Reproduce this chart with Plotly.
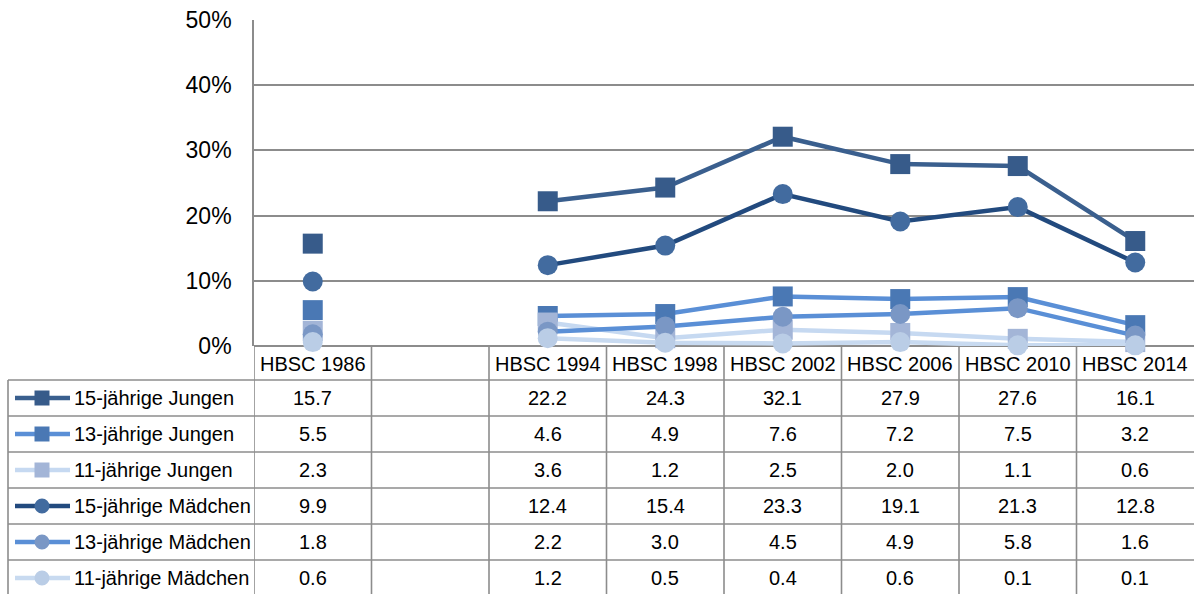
import plotly.graph_objects as go

W, H = 1194, 594

categories = ["HBSC 1986", "", "HBSC 1994", "HBSC 1998", "HBSC 2002", "HBSC 2006", "HBSC 2010", "HBSC 2014"]
series_names = ["15-jährige Jungen", "13-jährige Jungen", "11-jährige Jungen",
                "15-jährige Mädchen", "13-jährige Mädchen", "11-jährige Mädchen"]

jungen_15 = [15.7, None, 22.2, 24.3, 32.1, 27.9, 27.6, 16.1]
jungen_13 = [5.5, None, 4.6, 4.9, 7.6, 7.2, 7.5, 3.2]
jungen_11 = [2.3, None, 3.6, 1.2, 2.5, 2.0, 1.1, 0.6]
maedchen_15 = [9.9, None, 12.4, 15.4, 23.3, 19.1, 21.3, 12.8]
maedchen_13 = [1.8, None, 2.2, 3.0, 4.5, 4.9, 5.8, 1.6]
maedchen_11 = [0.6, None, 1.2, 0.5, 0.4, 0.6, 0.1, 0.1]

y_ticks = [0, 10, 20, 30, 40, 50]
y_ticktext = ["0%", "10%", "20%", "30%", "40%", "50%"]

all_series = [jungen_15, jungen_13, jungen_11, maedchen_15, maedchen_13, maedchen_11]
line_colors = ["#3A5F8E", "#5A8FD6", "#C6D9F1", "#224A7E", "#5A8FD6", "#C8DAF0"]
marker_colors = ["#375B8A", "#4A78B4", "#A3B5D7", "#426B9F", "#7A97C5", "#BACDE6"]
symbols = ["square", "square", "square", "circle", "circle", "circle"]

GRID = "#8C8C8C"
FONT = "Liberation Sans, Arial, sans-serif"

# layout geometry (pixels)
plot_left, plot_top, plot_bottom = 254, 20, 346
table_left = 8
header_bottom = 380
row_h = 36

def py(p):
    return 1 - p / H

def px(p):
    return p / W

fig = go.Figure()
xs = list(range(len(categories)))
for name, vals, lc, mc, sym in zip(series_names, all_series, line_colors, marker_colors, symbols):
    fig.add_trace(go.Scatter(
        x=xs, y=vals, name=name, mode="lines+markers",
        line=dict(color=lc, width=4.5),
        marker=dict(symbol=sym, size=20, color=mc, line=dict(width=0)),
        connectgaps=False, cliponaxis=False, showlegend=False,
    ))

shapes = []
annotations = []
LW = 1.6
n = len(categories)

# vertical separators in table (category boundaries)
for i in range(n):
    shapes.append(dict(type="line", xref="x", yref="paper", x0=i - 0.5, x1=i - 0.5,
                       y0=py(plot_bottom), y1=0, line=dict(color=GRID, width=LW)))
# left border of label column
shapes.append(dict(type="line", xref="paper", yref="paper", x0=px(table_left), x1=px(table_left),
                   y0=py(header_bottom), y1=0, line=dict(color=GRID, width=LW)))
# horizontal row lines
for r in range(len(series_names)):
    yy = header_bottom + r * row_h
    shapes.append(dict(type="line", xref="paper", yref="paper", x0=px(table_left), x1=1,
                       y0=py(yy), y1=py(yy), line=dict(color=GRID, width=LW)))

TS = 20
# header labels
for i, c in enumerate(categories):
    if c:
        annotations.append(dict(xref="x", yref="paper", x=i, y=py((plot_bottom + header_bottom) / 2 + 1),
                                text=c, showarrow=False, font=dict(size=TS, color="black", family=FONT),
                                xanchor="center", yanchor="middle"))

# rows
for r, (name, vals, lc, mc, sym) in enumerate(zip(series_names, all_series, line_colors, marker_colors, symbols)):
    cy = header_bottom + r * row_h + row_h / 2
    annotations.append(dict(xref="paper", yref="paper", x=px(72), y=py(cy), text=name,
                            showarrow=False, xanchor="left", yanchor="middle",
                            font=dict(size=TS, color="black", family=FONT)))
    for i, v in enumerate(vals):
        if v is not None:
            annotations.append(dict(xref="x", yref="paper", x=i, y=py(cy), text=f"{v:.1f}",
                                    showarrow=False, xanchor="center", yanchor="middle",
                                    font=dict(size=TS, color="black", family=FONT)))
    # legend key
    shapes.append(dict(type="line", xref="paper", yref="paper", x0=px(15), x1=px(70),
                       y0=py(cy), y1=py(cy), line=dict(color=lc, width=4.5)))
    s = 7.5
    shapes.append(dict(type="rect" if sym == "square" else "circle", xref="paper", yref="paper",
                       x0=px(42 - s), x1=px(42 + s), y0=py(cy - s), y1=py(cy + s),
                       fillcolor=mc, line=dict(width=0)))

fig.update_layout(
    width=W, height=H, autosize=False,
    margin=dict(l=0, r=0, t=0, b=0, pad=0, autoexpand=False),
    paper_bgcolor="white", plot_bgcolor="white",
    font=dict(family=FONT, color="black"),
    shapes=shapes, annotations=annotations,
    xaxis=dict(domain=[px(plot_left), 1], range=[-0.5, n - 0.5], showticklabels=False,
               showgrid=False, zeroline=False, showline=False, fixedrange=True, automargin=False),
    yaxis=dict(domain=[py(plot_bottom), py(plot_top)], range=[0, 50], tickvals=y_ticks,
               ticktext=y_ticktext, tickfont=dict(size=23, color="black", family=FONT),
               showgrid=True, gridcolor=GRID, gridwidth=LW, zeroline=True, zerolinecolor=GRID,
               zerolinewidth=LW, showline=True, linecolor=GRID, linewidth=LW,
               ticks="", ticklabelstandoff=16, fixedrange=True, automargin=False),
)

fig.write_html("out.html", config={"displayModeBar": False, "responsive": False},
               post_script="document.body.style.margin='0';document.body.style.overflow='hidden';")
